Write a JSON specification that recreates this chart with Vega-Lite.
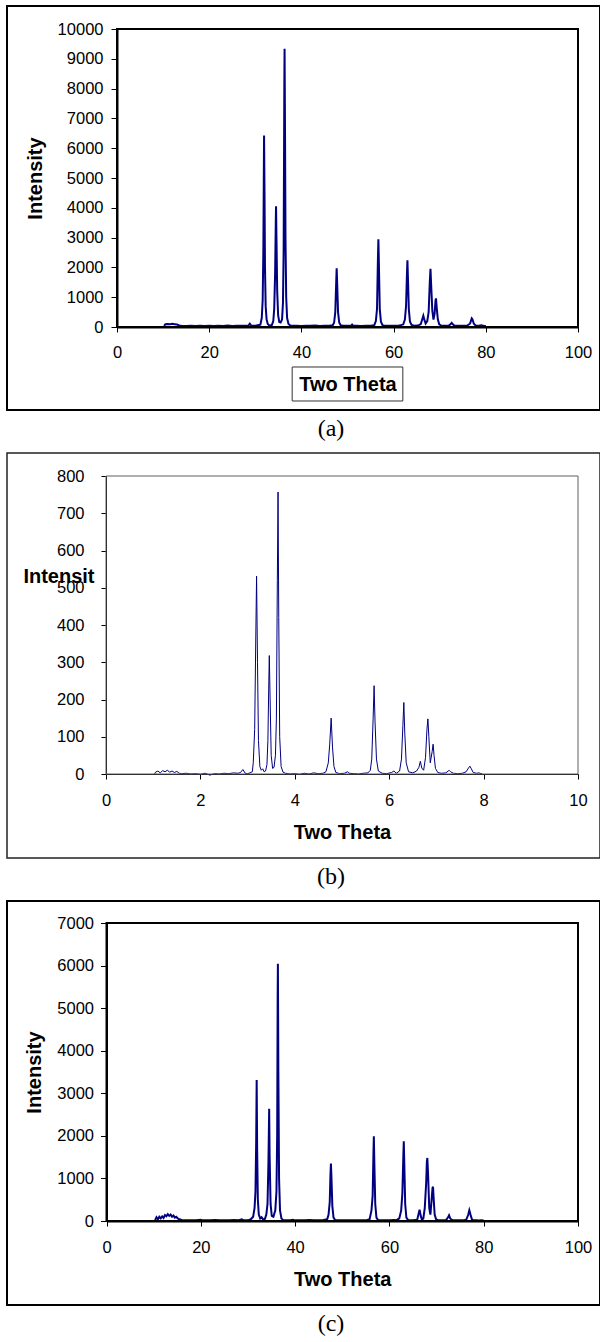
{
  "$schema": "https://vega.github.io/schema/vega-lite/v6.json",
  "padding": {"left": 6, "top": 5, "right": 0, "bottom": 0},
  "spacing": 10,
  "config": {
    "view": {"stroke": null},
    "axis": {
      "grid": false,
      "format": "d",
      "labelFont": "Liberation Sans",
      "labelFontSize": 16.5,
      "labelColor": "black",
      "titleFont": "Liberation Sans",
      "titleFontSize": 20,
      "titleFontWeight": "bold",
      "titleColor": "black",
      "domainColor": "black",
      "tickColor": "black",
      "labelFlush": false,
      "labelOverlap": false,
      "labelBound": false,
      "zindex": 1
    },
    "title": {"font": "Liberation Serif", "fontSize": 24, "fontWeight": "normal", "color": "black", "orient": "bottom", "anchor": "middle", "baseline": "top", "offset": 7, "dx": 27.5, "frame": "group"}
  },
  "datasets": {
    "a": [
      {"t":10.2,"i":40},{"t":10.5,"i":90},{"t":11,"i":100},{"t":11.5,"i":95},{"t":12,"i":105},{"t":12.5,"i":95},{"t":13,"i":85},{"t":13.5,"i":50},{"t":14,"i":40},{"t":15,"i":35},{"t":16,"i":40},{"t":17,"i":30},{"t":18,"i":45},{"t":19,"i":35},{"t":20,"i":40},{"t":21,"i":30},{"t":22,"i":45},{"t":23,"i":35},{"t":24,"i":50},{"t":25,"i":35},{"t":26,"i":40},{"t":27,"i":45},{"t":28,"i":40},{"t":28.5,"i":50},{"t":28.8,"i":110},{"t":29.1,"i":45},{"t":29.5,"i":40},{"t":30,"i":45},{"t":30.5,"i":60},
      {"t":31.1,"i":80},{"t":31.4,"i":300},{"t":31.6,"i":900},{"t":31.75,"i":2600},{"t":31.85,"i":5200},{"t":31.9,"i":6430},{"t":32,"i":4500},{"t":32.1,"i":2000},{"t":32.25,"i":700},{"t":32.45,"i":250},{"t":32.7,"i":100},{"t":33,"i":60},{"t":33.3,"i":50},{"t":33.6,"i":70},
      {"t":33.9,"i":200},{"t":34.1,"i":600},{"t":34.3,"i":1800},{"t":34.45,"i":3600},{"t":34.5,"i":4050},{"t":34.6,"i":2900},{"t":34.75,"i":1200},{"t":34.95,"i":400},{"t":35.2,"i":170},{"t":35.5,"i":150},{"t":35.8,"i":250},
      {"t":36,"i":800},{"t":36.15,"i":2600},{"t":36.3,"i":8200},{"t":36.35,"i":9340},{"t":36.45,"i":6500},{"t":36.55,"i":3000},{"t":36.7,"i":1000},{"t":36.9,"i":300},{"t":37.2,"i":100},{"t":37.6,"i":50},{"t":38,"i":40},{"t":39,"i":45},{"t":40,"i":35},{"t":41,"i":40},{"t":42,"i":45},{"t":43,"i":50},{"t":44,"i":35},{"t":45,"i":40},{"t":46,"i":45},{"t":46.8,"i":60},
      {"t":47.1,"i":150},{"t":47.35,"i":500},{"t":47.55,"i":1500},{"t":47.65,"i":1970},{"t":47.75,"i":1500},{"t":47.95,"i":500},{"t":48.2,"i":150},{"t":48.5,"i":60},{"t":49,"i":40},{"t":50,"i":45},{"t":50.8,"i":40},{"t":51,"i":80},{"t":51.2,"i":45},{"t":52,"i":40},{"t":53,"i":35},{"t":54,"i":40},{"t":55,"i":45},{"t":55.8,"i":60},
      {"t":56.15,"i":200},{"t":56.4,"i":600},{"t":56.6,"i":2300},{"t":56.7,"i":2940},{"t":56.8,"i":2200},{"t":57,"i":600},{"t":57.25,"i":180},{"t":57.6,"i":60},{"t":58,"i":40},{"t":59,"i":45},{"t":60,"i":40},{"t":61,"i":45},{"t":61.5,"i":55},{"t":62.1,"i":90},
      {"t":62.45,"i":250},{"t":62.7,"i":700},{"t":62.9,"i":1800},{"t":63,"i":2240},{"t":63.1,"i":1700},{"t":63.3,"i":600},{"t":63.55,"i":180},{"t":63.9,"i":70},{"t":64.5,"i":45},{"t":65.3,"i":50},{"t":65.9,"i":100},
      {"t":66.2,"i":250},{"t":66.45,"i":380},{"t":66.7,"i":230},{"t":66.95,"i":120},{"t":67.3,"i":200},{"t":67.6,"i":500},{"t":67.85,"i":1500},{"t":68,"i":1950},{"t":68.15,"i":1400},{"t":68.4,"i":550},{"t":68.65,"i":250},{"t":68.9,"i":450},{"t":69.1,"i":900},{"t":69.2,"i":960},{"t":69.35,"i":650},{"t":69.6,"i":250},{"t":69.9,"i":90},{"t":70.3,"i":50},{"t":71,"i":45},{"t":72,"i":50},
      {"t":72.4,"i":100},{"t":72.6,"i":140},{"t":72.85,"i":90},{"t":73.2,"i":45},{"t":74,"i":40},{"t":75,"i":45},{"t":76,"i":50},{"t":76.6,"i":120},{"t":76.95,"i":290},{"t":77.1,"i":260},{"t":77.4,"i":110},{"t":77.8,"i":50},{"t":78.5,"i":45},{"t":79,"i":60},{"t":79.5,"i":40},{"t":80,"i":30}
    ],
    "b": [
      {"t":1.03,"i":0},{"t":1.05,"i":5},{"t":1.1,"i":8},{"t":1.15,"i":3},{"t":1.2,"i":9},{"t":1.25,"i":6},{"t":1.3,"i":10},{"t":1.35,"i":5},{"t":1.4,"i":8},{"t":1.45,"i":4},{"t":1.5,"i":7},{"t":1.55,"i":2},{"t":1.6,"i":1},{"t":1.7,"i":2},{"t":1.8,"i":0},{"t":1.9,"i":1},{"t":2,"i":-1},{"t":2.1,"i":2},{"t":2.2,"i":-3},{"t":2.3,"i":1},{"t":2.4,"i":0},{"t":2.5,"i":2},{"t":2.6,"i":1},{"t":2.7,"i":3},{"t":2.8,"i":2},{"t":2.85,"i":4},{"t":2.9,"i":12},{"t":2.95,"i":2},{"t":3,"i":1},{"t":3.05,"i":3},{"t":3.1,"i":6},
      {"t":3.12,"i":30},{"t":3.15,"i":120},{"t":3.17,"i":330},{"t":3.19,"i":531},{"t":3.21,"i":300},{"t":3.23,"i":90},{"t":3.26,"i":20},{"t":3.29,"i":10},{"t":3.32,"i":14},{"t":3.35,"i":6},{"t":3.38,"i":8},{"t":3.41,"i":25},
      {"t":3.43,"i":90},{"t":3.45,"i":250},{"t":3.46,"i":318},{"t":3.48,"i":180},{"t":3.5,"i":50},{"t":3.53,"i":15},{"t":3.56,"i":18},{"t":3.59,"i":50},
      {"t":3.61,"i":150},{"t":3.63,"i":520},{"t":3.645,"i":757},{"t":3.66,"i":420},{"t":3.68,"i":100},{"t":3.71,"i":20},{"t":3.75,"i":5},{"t":3.8,"i":2},{"t":3.9,"i":0},{"t":4,"i":1},{"t":4.1,"i":-1},{"t":4.2,"i":2},{"t":4.3,"i":0},{"t":4.4,"i":3},{"t":4.5,"i":1},{"t":4.6,"i":2},{"t":4.66,"i":6},
      {"t":4.71,"i":30},{"t":4.74,"i":80},{"t":4.77,"i":150},{"t":4.8,"i":70},{"t":4.83,"i":20},{"t":4.87,"i":4},{"t":4.95,"i":1},{"t":5.05,"i":2},{"t":5.12,"i":6},{"t":5.15,"i":2},{"t":5.25,"i":1},{"t":5.35,"i":0},{"t":5.45,"i":2},{"t":5.55,"i":3},{"t":5.6,"i":10},
      {"t":5.63,"i":40},{"t":5.66,"i":150},{"t":5.68,"i":237},{"t":5.7,"i":140},{"t":5.73,"i":40},{"t":5.77,"i":8},{"t":5.85,"i":2},{"t":5.95,"i":1},{"t":6.05,"i":4},{"t":6.1,"i":8},{"t":6.15,"i":2},{"t":6.22,"i":8},
      {"t":6.26,"i":40},{"t":6.29,"i":130},{"t":6.31,"i":192},{"t":6.33,"i":110},{"t":6.36,"i":30},{"t":6.41,"i":6},{"t":6.5,"i":3},{"t":6.58,"i":8},
      {"t":6.63,"i":18},{"t":6.66,"i":34},{"t":6.69,"i":16},{"t":6.73,"i":10},{"t":6.77,"i":45},{"t":6.8,"i":120},{"t":6.82,"i":148},{"t":6.84,"i":100},{"t":6.87,"i":30},{"t":6.91,"i":60},{"t":6.93,"i":80},{"t":6.95,"i":50},{"t":6.98,"i":15},{"t":7.03,"i":4},{"t":7.1,"i":2},{"t":7.2,"i":3},{"t":7.25,"i":8},{"t":7.27,"i":10},{"t":7.3,"i":6},{"t":7.36,"i":2},{"t":7.45,"i":1},{"t":7.55,"i":2},{"t":7.63,"i":6},
      {"t":7.68,"i":16},{"t":7.71,"i":21},{"t":7.74,"i":14},{"t":7.78,"i":4},{"t":7.85,"i":2},{"t":7.9,"i":3},{"t":7.97,"i":0}
    ],
    "c": [
      {"t":10.3,"i":20},{"t":10.6,"i":90},{"t":10.9,"i":40},{"t":11.2,"i":100},{"t":11.5,"i":60},{"t":11.8,"i":110},{"t":12.1,"i":70},{"t":12.4,"i":140},{"t":12.7,"i":110},{"t":13,"i":160},{"t":13.3,"i":120},{"t":13.6,"i":150},{"t":13.9,"i":100},{"t":14.2,"i":130},{"t":14.5,"i":80},{"t":14.8,"i":100},{"t":15.1,"i":60},{"t":15.5,"i":40},{"t":16,"i":20},{"t":17,"i":15},{"t":18,"i":20},{"t":19,"i":15},{"t":20,"i":30},{"t":20.3,"i":15},{"t":21,"i":20},{"t":22,"i":15},{"t":23,"i":25},{"t":24,"i":15},{"t":25,"i":20},{"t":26,"i":15},{"t":27,"i":25},{"t":28,"i":20},{"t":28.7,"i":40},{"t":29,"i":20},{"t":30,"i":15},{"t":30.6,"i":40},
      {"t":31.1,"i":100},{"t":31.4,"i":300},{"t":31.6,"i":700},{"t":31.75,"i":1900},{"t":31.85,"i":3312},{"t":31.95,"i":1700},{"t":32.1,"i":500},{"t":32.3,"i":150},{"t":32.6,"i":60},{"t":32.9,"i":90},{"t":33.2,"i":40},{"t":33.6,"i":50},
      {"t":33.9,"i":150},{"t":34.15,"i":400},{"t":34.35,"i":1400},{"t":34.5,"i":2638},{"t":34.6,"i":1500},{"t":34.8,"i":400},{"t":35.05,"i":120},{"t":35.4,"i":100},{"t":35.8,"i":250},
      {"t":36.05,"i":700},{"t":36.2,"i":2000},{"t":36.3,"i":5200},{"t":36.35,"i":6045},{"t":36.45,"i":3500},{"t":36.6,"i":1000},{"t":36.8,"i":250},{"t":37.1,"i":60},{"t":37.5,"i":20},{"t":38,"i":15},{"t":39,"i":20},{"t":39.5,"i":30},{"t":40,"i":15},{"t":41,"i":20},{"t":42,"i":15},{"t":43,"i":25},{"t":44,"i":15},{"t":45,"i":20},{"t":46,"i":25},{"t":46.8,"i":40},
      {"t":47.1,"i":150},{"t":47.35,"i":450},{"t":47.5,"i":1100},{"t":47.6,"i":1347},{"t":47.7,"i":1050},{"t":47.9,"i":350},{"t":48.15,"i":80},{"t":48.5,"i":20},{"t":49,"i":15},{"t":50,"i":20},{"t":51,"i":15},{"t":52,"i":20},{"t":53,"i":15},{"t":54,"i":20},{"t":55,"i":15},{"t":55.8,"i":40},
      {"t":56.2,"i":250},{"t":56.45,"i":600},{"t":56.6,"i":1500},{"t":56.7,"i":1989},{"t":56.8,"i":1400},{"t":57,"i":400},{"t":57.25,"i":80},{"t":57.6,"i":20},{"t":58,"i":15},{"t":59,"i":20},{"t":60,"i":15},{"t":61,"i":25},{"t":61.5,"i":20},{"t":62.1,"i":60},
      {"t":62.5,"i":250},{"t":62.75,"i":650},{"t":62.95,"i":1500},{"t":63.05,"i":1872},{"t":63.15,"i":1400},{"t":63.35,"i":400},{"t":63.6,"i":80},{"t":64,"i":20},{"t":65,"i":15},{"t":65.9,"i":30},
      {"t":66.15,"i":150},{"t":66.4,"i":266},{"t":66.65,"i":120},{"t":66.9,"i":30},{"t":67.2,"i":60},{"t":67.5,"i":300},{"t":67.8,"i":900},{"t":67.95,"i":1400},{"t":68.05,"i":1480},{"t":68.2,"i":1100},{"t":68.45,"i":300},{"t":68.7,"i":150},{"t":68.95,"i":500},{"t":69.15,"i":780},{"t":69.25,"i":806},{"t":69.4,"i":500},{"t":69.6,"i":150},{"t":69.9,"i":40},{"t":70.3,"i":20},{"t":71,"i":15},{"t":72,"i":20},
      {"t":72.4,"i":80},{"t":72.65,"i":134},{"t":72.9,"i":60},{"t":73.2,"i":30},{"t":73.6,"i":15},{"t":74.5,"i":20},{"t":75.5,"i":15},{"t":76.3,"i":30},{"t":76.7,"i":140},{"t":76.95,"i":251},{"t":77.2,"i":150},{"t":77.5,"i":40},{"t":77.9,"i":15},{"t":78.5,"i":20},{"t":79,"i":10},{"t":79.5,"i":15},{"t":80,"i":10}
    ]
  },
  "vconcat": [
    {
      "width": 593,
      "height": 404,
      "view": {"stroke": "black", "strokeWidth": 2},
      "title": {"text": "(a)"},
      "layer": [
        {
          "data": {"name": "a"},
          "mark": {"type": "line", "color": "#000080", "strokeWidth": 2},
          "encoding": {
            "x": {"field": "t", "type": "quantitative",
              "scale": {"domain": [0, 100], "range": [110, 571], "nice": false, "zero": false},
              "axis": {"values": [0, 20, 40, 60, 80, 100], "offset": -83, "tickSize": 5, "domainWidth": 2, "labelPadding": 20.5, "labelBaseline": "middle",
                "title": "Two Theta", "titleX": 340.5, "titleY": 57, "titleBaseline": "middle", "titleAlign": "center"}},
            "y": {"field": "i", "type": "quantitative",
              "scale": {"domain": [0, 10000], "range": [321, 23], "nice": false, "zero": false},
              "axis": {"values": [0, 1000, 2000, 3000, 4000, 5000, 6000, 7000, 8000, 9000, 10000], "offset": -110, "tickSize": 6, "domainWidth": 2, "labelPadding": 8,
                "title": "Intensity", "titleAngle": 270, "titleX": -82, "titleY": 172, "titleBaseline": "middle", "titleAlign": "center"}}
          }
        },
        {
          "data": {"values": [{}]},
          "mark": {"type": "rect", "filled": false, "stroke": "black", "strokeWidth": 2},
          "encoding": {
            "x": {"datum": 0, "type": "quantitative"},
            "x2": {"datum": 100},
            "y": {"datum": 0, "type": "quantitative"},
            "y2": {"datum": 10000}
          }
        },
        {
          "data": {"values": [{}]},
          "mark": {"type": "rect", "filled": false, "stroke": "#333333", "strokeWidth": 1, "clip": false},
          "encoding": {
            "x": {"datum": 38, "type": "quantitative"},
            "x2": {"datum": 62},
            "y": {"datum": -1342, "type": "quantitative"},
            "y2": {"datum": -2483}
          }
        }
      ]
    },
    {
      "width": 593,
      "height": 405,
      "view": {"stroke": "#222222", "strokeWidth": 1.5},
      "title": {"text": "(b)"},
      "layer": [
        {
          "data": {"name": "b"},
          "mark": {"type": "line", "color": "#000080", "strokeWidth": 1},
          "encoding": {
            "x": {"field": "t", "type": "quantitative",
              "scale": {"domain": [0, 10], "range": [99, 571], "nice": false, "zero": false},
              "axis": {"values": [0, 2, 4, 6, 8, 10], "offset": -84, "tickSize": 5, "domainWidth": 1, "labelPadding": 21.3, "labelBaseline": "middle",
                "title": "Two Theta", "titleX": 335, "titleY": 58, "titleBaseline": "middle", "titleAlign": "center"}},
            "y": {"field": "i", "type": "quantitative",
              "scale": {"domain": [0, 800], "range": [321, 23], "nice": false, "zero": false},
              "axis": {"values": [0, 100, 200, 300, 400, 500, 600, 700, 800], "offset": -99, "tickSize": 5, "domainWidth": 1, "labelPadding": 17,
                "title": "Intensit", "titleAngle": 0, "titleX": -12, "titleY": 123.5, "titleBaseline": "middle", "titleAlign": "right"}}
          }
        },
        {
          "data": {"values": [{}]},
          "mark": {"type": "rect", "filled": false, "stroke": "#606060", "strokeWidth": 1},
          "encoding": {
            "x": {"datum": 0, "type": "quantitative"},
            "x2": {"datum": 10},
            "y": {"datum": 0, "type": "quantitative"},
            "y2": {"datum": 800}
          }
        }
      ]
    },
    {
      "width": 593,
      "height": 404,
      "view": {"stroke": "black", "strokeWidth": 2},
      "title": {"text": "(c)"},
      "layer": [
        {
          "data": {"name": "c"},
          "mark": {"type": "line", "color": "#000080", "strokeWidth": 2},
          "encoding": {
            "x": {"field": "t", "type": "quantitative",
              "scale": {"domain": [0, 100], "range": [99.5, 571], "nice": false, "zero": false},
              "axis": {"values": [0, 20, 40, 60, 80, 100], "offset": -84, "tickSize": 5, "domainWidth": 2, "labelPadding": 21.3, "labelBaseline": "middle",
                "title": "Two Theta", "titleX": 335.25, "titleY": 58, "titleBaseline": "middle", "titleAlign": "center"}},
            "y": {"field": "i", "type": "quantitative",
              "scale": {"domain": [0, 7000], "range": [320, 22], "nice": false, "zero": false},
              "axis": {"values": [0, 1000, 2000, 3000, 4000, 5000, 6000, 7000], "offset": -99.5, "tickSize": 6, "domainWidth": 2, "labelPadding": 7,
                "title": "Intensity", "titleAngle": 270, "titleX": -71.8, "titleY": 171, "titleBaseline": "middle", "titleAlign": "center"}}
          }
        },
        {
          "data": {"values": [{}]},
          "mark": {"type": "rect", "filled": false, "stroke": "black", "strokeWidth": 2},
          "encoding": {
            "x": {"datum": 0, "type": "quantitative"},
            "x2": {"datum": 100},
            "y": {"datum": 0, "type": "quantitative"},
            "y2": {"datum": 7000}
          }
        }
      ]
    }
  ]
}
